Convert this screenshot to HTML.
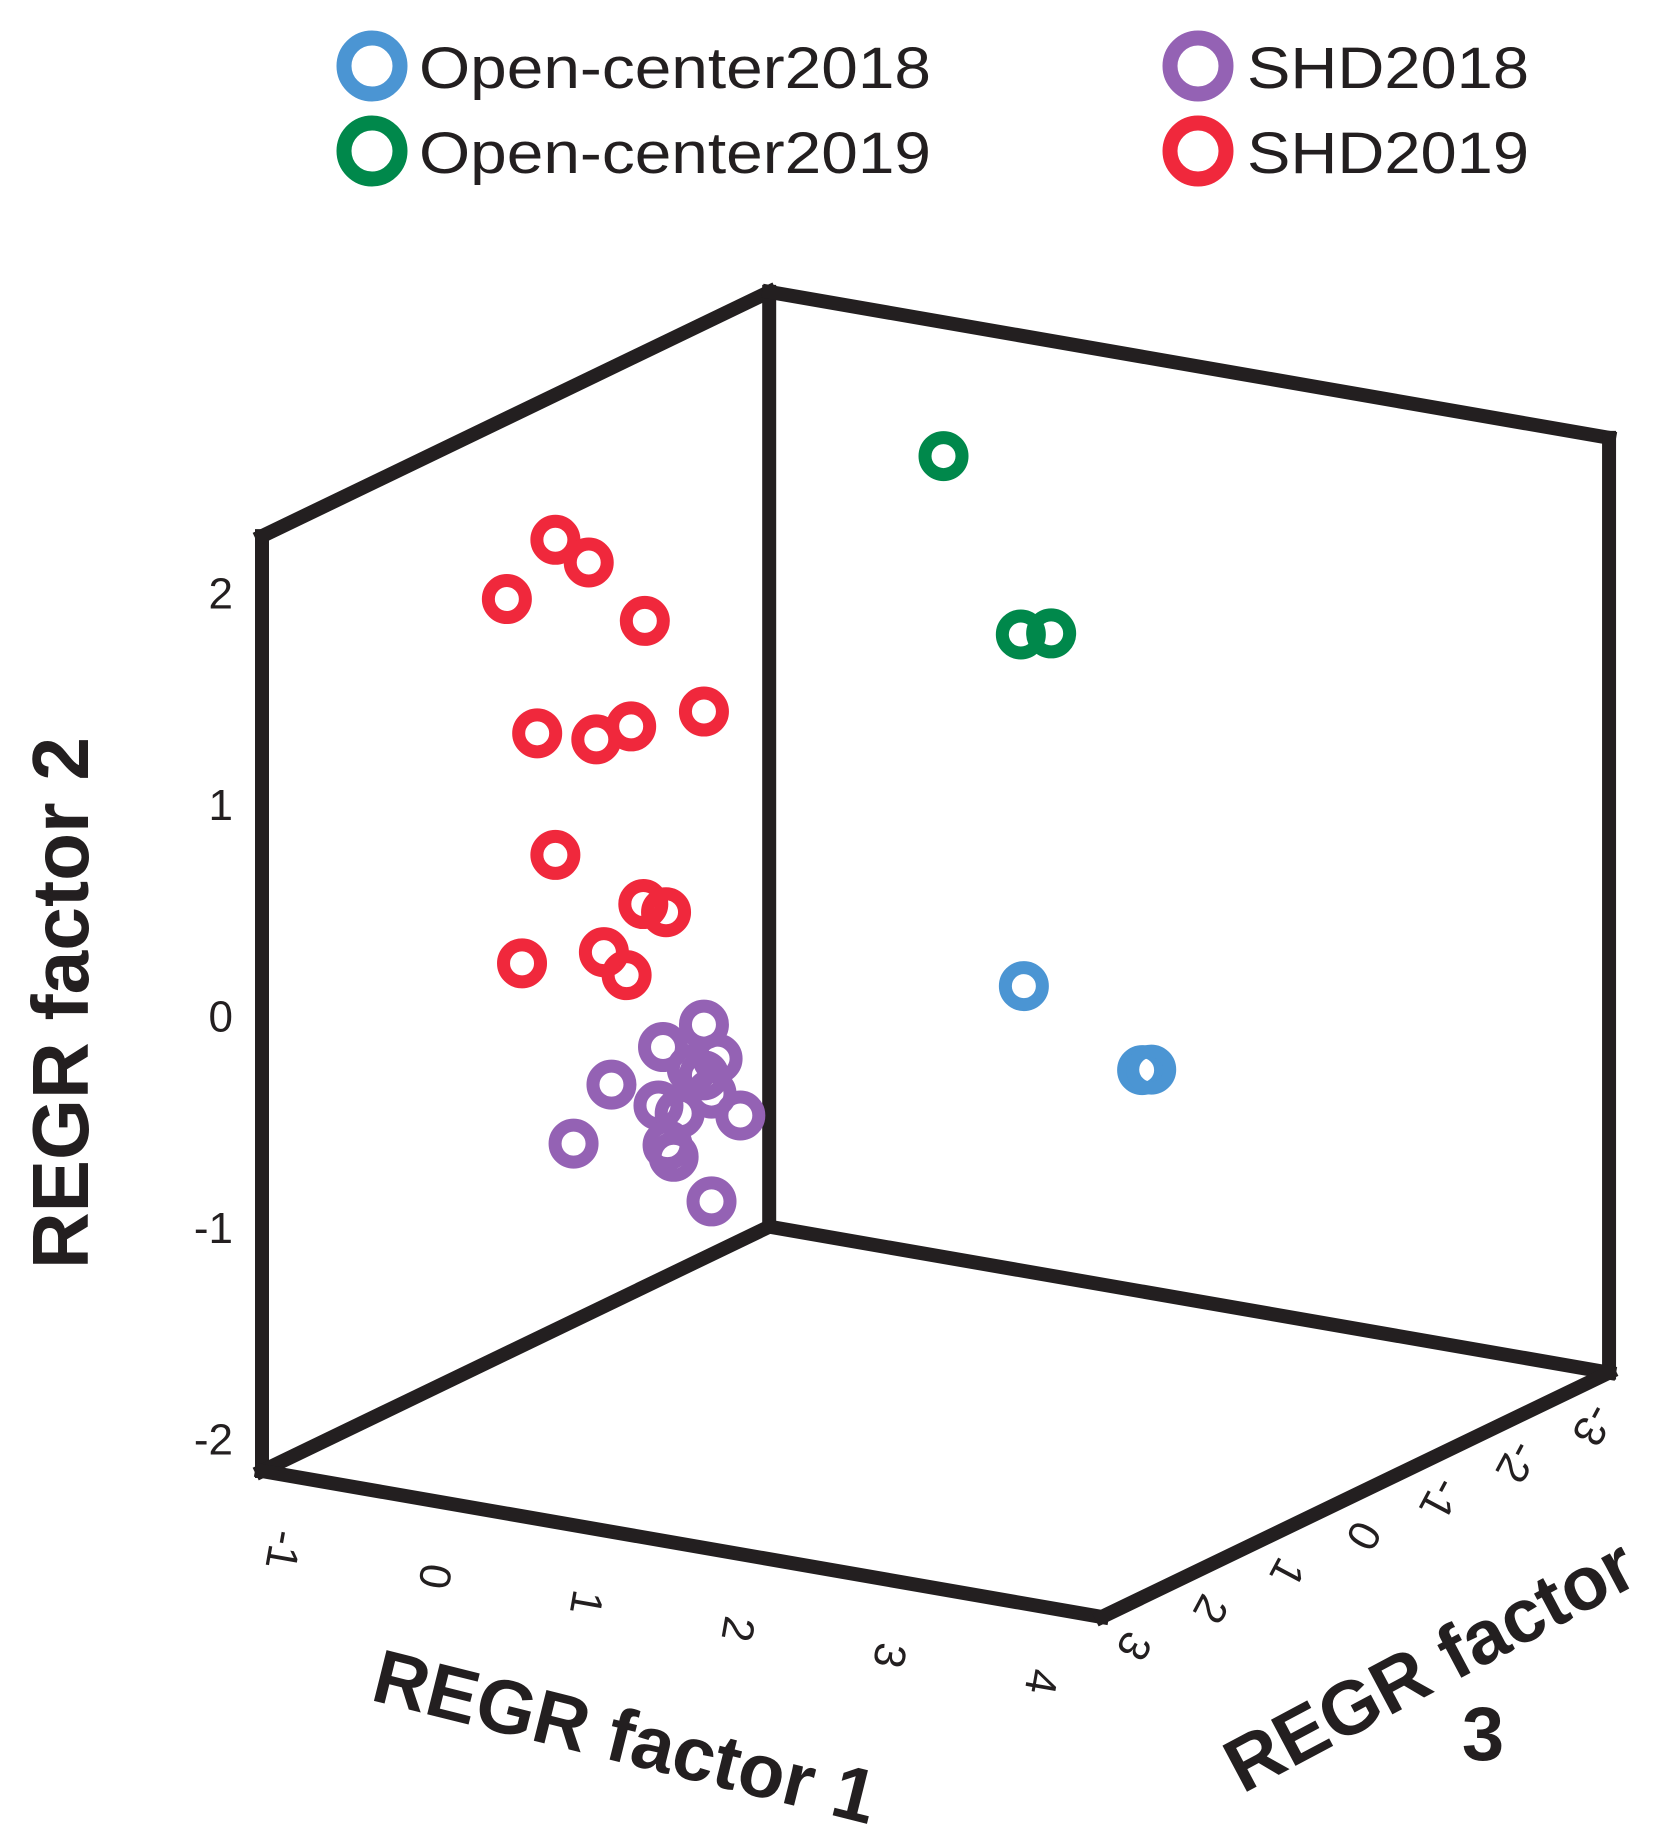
<!DOCTYPE html>
<html><head><meta charset="utf-8"><style>
html,body{margin:0;padding:0;background:#fff}
svg{display:block}
text{font-family:"Liberation Sans",Arial,sans-serif;fill:#231f20}
</style></head><body>
<svg id="chart" width="1675" height="1825" viewBox="0 0 1675 1825" xmlns="http://www.w3.org/2000/svg">
<g id="legend">
 <g>
  <circle cx="372" cy="66" r="28" fill="none" stroke="#4b95d3" stroke-width="15"/>
  <text x="419" y="88" font-size="58" textLength="512" lengthAdjust="spacingAndGlyphs">Open-center2018</text>
 </g>
 <g>
  <circle cx="372" cy="151" r="28" fill="none" stroke="#00884b" stroke-width="15"/>
  <text x="419" y="173" font-size="58" textLength="512" lengthAdjust="spacingAndGlyphs">Open-center2019</text>
 </g>
 <g>
  <circle cx="1198" cy="66" r="28" fill="none" stroke="#9462b4" stroke-width="15"/>
  <text x="1247" y="88" font-size="58" textLength="282" lengthAdjust="spacingAndGlyphs">SHD2018</text>
 </g>
 <g>
  <circle cx="1198" cy="151" r="28" fill="none" stroke="#f0283c" stroke-width="15"/>
  <text x="1247" y="173" font-size="58" textLength="282" lengthAdjust="spacingAndGlyphs">SHD2019</text>
 </g>
</g>
<g id="box" stroke="#231f20" stroke-width="14" stroke-linecap="square" fill="none"></g>
<g id="ticks"></g>
<g id="points"></g>
<text transform="translate(88,1003) rotate(-90)" text-anchor="middle" font-size="80" font-weight="bold" textLength="532" lengthAdjust="spacingAndGlyphs">REGR factor 2</text>
<text transform="translate(619,1762) rotate(14)" text-anchor="middle" font-size="76" font-weight="bold">REGR factor 1</text>
<text transform="translate(1442,1688) rotate(-28)" text-anchor="middle" font-size="76" font-weight="bold">REGR factor</text>
<text x="1483" y="1760" text-anchor="middle" font-size="76" font-weight="bold">3</text>
</svg>
<script>
const yTicks = [-2, -1, 0, 1, 2];
const xTicks = [-1, 0, 1, 2, 3, 4];
const zTicks = [3, 2, 1, 0, -1, -2, -3];
const seriesNames = ["SHD2019", "SHD2018", "Open-center2019", "Open-center2018"];
const seriesColors = ["#f0283c", "#9462b4", "#00884b", "#4b95d3"];
const shd2019F1 = [-0.18,0.04,-0.50,0.41,0.80,-0.30,0.09,0.32,-0.18,0.40,0.55,-0.40,0.14,0.29];
const shd2019F2 = [1.97,1.89,1.65,1.66,1.28,1.04,1.06,1.15,0.48,0.32,0.30,-0.06,0.06,-0.03];
const shd2019F3 = [0.79,0.79,0.79,0.79,0.79,0.79,0.79,0.79,0.79,0.79,0.79,0.79,0.79,0.79];
const shd2018F1 = [0.80,0.53,0.89,0.19,0.80,0.85,0.50,0.64,1.04,-0.06,0.56,0.60,0.85,0.72];
const shd2018F2 = [-0.20,-0.34,-0.35,-0.56,-0.44,-0.52,-0.62,-0.64,-0.60,-0.87,-0.80,-0.85,-1.03,-0.42];
const shd2018F3 = [0.79,0.79,0.79,0.79,0.79,0.79,0.79,0.79,0.79,0.79,0.79,0.79,0.79,0.79];
const oc2019F1 = [0.71,1.22,1.42];
const oc2019F2 = [1.90,1.12,1.15];
const oc2019F3 = [-2.52,-2.52,-2.52];
const oc2018F1 = [1.24,2.02,2.08];
const oc2018F2 = [-0.54,-0.84,-0.83];
const oc2018F3 = [-2.52,-2.52,-2.52];

const NS = "http://www.w3.org/2000/svg";
const O = {x:262, y:1471};
const F1MIN = -1, F1MAX = 4.54, F3MAX = 3, F3MIN = -3.63;
const F2MIN = -2.15, F2MAX = 2.27;
function proj(f1, f2, f3) {
  const a = f1 - F1MIN, b = F3MAX - f3, c = f2 - F2MIN;
  return { x: O.x + a*151.6 + b*76.5, y: O.y + a*26.35 - b*36.85 - c*211.5 };
}
function el(tag, attrs, parent) {
  const e = document.createElementNS(NS, tag);
  for (const k in attrs) e.setAttribute(k, attrs[k]);
  parent.appendChild(e); return e;
}
const box = document.getElementById('box');
const edges = [
  [[F1MIN,F2MIN,F3MAX],[F1MIN,F2MAX,F3MAX]], [[F1MIN,F2MAX,F3MAX],[F1MIN,F2MAX,F3MIN]], [[F1MIN,F2MIN,F3MIN],[F1MIN,F2MAX,F3MIN]],
  [[F1MIN,F2MAX,F3MIN],[F1MAX,F2MAX,F3MIN]], [[F1MAX,F2MIN,F3MIN],[F1MAX,F2MAX,F3MIN]], [[F1MIN,F2MIN,F3MAX],[F1MIN,F2MIN,F3MIN]],
  [[F1MIN,F2MIN,F3MIN],[F1MAX,F2MIN,F3MIN]], [[F1MIN,F2MIN,F3MAX],[F1MAX,F2MIN,F3MAX]], [[F1MAX,F2MIN,F3MAX],[F1MAX,F2MIN,F3MIN]]
];
edges.forEach(function(e) {
  const p = proj(...e[0]), q = proj(...e[1]);
  const ln = el('line', {x1:p.x, y1:p.y, x2:q.x, y2:q.y}, box);
  
  
});
const ticks = document.getElementById('ticks');
yTicks.forEach(function(v) {
  const p = proj(F1MIN, v, F3MAX);
  const t = el('text', {x:233, y:p.y + 15, 'text-anchor':'end', 'font-size':44}, ticks);
  
  
  t.textContent = v < 0 ? '-' + Math.abs(v) : String(v);
});
xTicks.forEach(function(v) {
  const p = proj(v, F2MIN, F3MAX);
  const t = el('text', {transform:'translate(' + (p.x + 21) + ',' + (p.y + 79) + ') rotate(100)', 'text-anchor':'middle', 'dominant-baseline':'central', 'font-size':44}, ticks);
  
  
  t.textContent = String(v);
});
zTicks.forEach(function(v) {
  const p = proj(F1MAX, F2MIN, v);
  const t = el('text', {transform:'translate(' + (p.x + 32) + ',' + (p.y + 29) + ') rotate(118)', 'text-anchor':'middle', 'dominant-baseline':'central', 'font-size':44}, ticks);
  
  
  t.textContent = String(v);
});
const pts = document.getElementById('points');
const series = [
  [shd2019F1, shd2019F2, shd2019F3], [shd2018F1, shd2018F2, shd2018F3],
  [oc2019F1, oc2019F2, oc2019F3], [oc2018F1, oc2018F2, oc2018F3]
];
series.forEach(function(s, si) {
  for (let i = 0; i < s[0].length; i++) {
    const p = proj(s[0][i], s[1][i], s[2][i]);
    const c = el('circle', {cx:p.x, cy:p.y, r:18.5, fill:'none', stroke:seriesColors[si], 'stroke-width':13}, pts);
    
    
  }
});
</script>
</body></html>
